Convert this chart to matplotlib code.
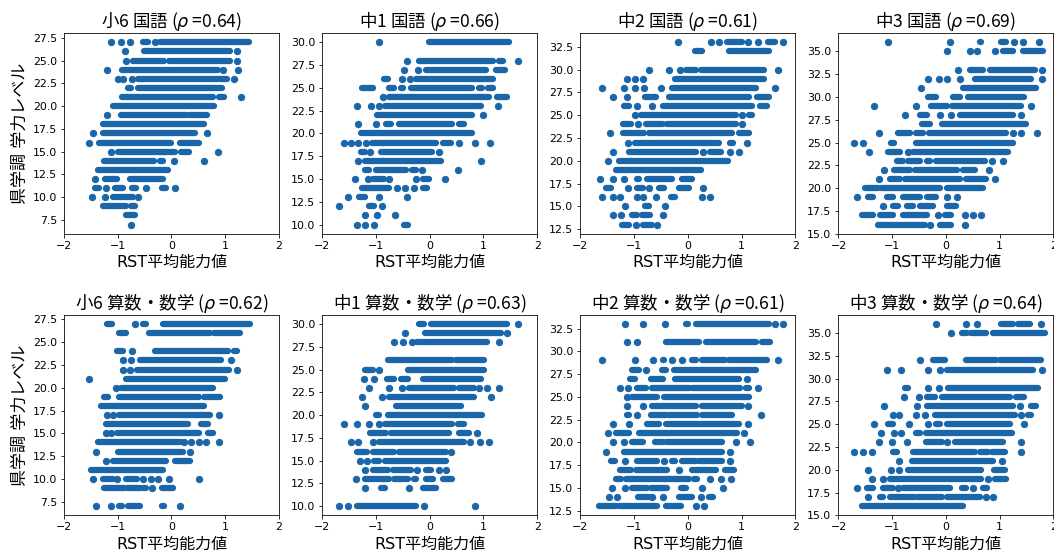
import matplotlib.pyplot as plt

plt.rcParams['font.family'] = ['DejaVu Sans', 'Noto Sans CJK JP']
JP = ['Noto Sans CJK JP', 'DejaVu Sans']
BLUE = '#1a66a9'

# each row: level -> list of single points (float) or dense runs of points (x0, x1)
kokugo_s6 = {
    27: [-1.13, -0.93, -0.78, (-0.53, -0.44), -0.31, (-0.22, 1.44)],
    26: [-0.87, (-0.51, 1.08), 1.21],
    25: [-0.84, (-0.72, -0.13), (-0.04, 1.08), 1.21],
    24: [-1.20, (-0.92, 0.86), 0.95, 1.23],
    23: [-1.00, -0.90, -0.73, (-0.63, 1.03), 1.16],
    22: [(-0.81, -0.75), (-0.63, 0.94)],
    21: [(-0.92, 0.77), (0.88, 0.97), 1.29],
    20: [(-1.08, 0.80)],
    19: [-1.20, (-0.93, 0.27), (0.32, 0.67)],
    18: [(-1.28, 0.61)],
    17: [-1.46, (-1.28, 0.43), 0.66],
    16: [-1.54, (-1.34, 0.00), (0.15, 0.51)],
    15: [-1.12, (-1.00, 0.07), (0.18, 0.33), 0.86],
    14: [(-1.26, -0.32), (-0.22, -0.16), 0.04, 0.61],
    13: [(-1.36, -0.07)],
    12: [-1.42, (-1.23, -1.01), (-0.77, -0.16)],
    11: [(-1.43, -1.34), -1.21, (-1.06, -0.90), (-0.73, -0.66), -0.48, (-0.17, -0.10), 0.06],
    10: [-1.47, -1.24, (-1.09, -0.72), -0.63],
    9: [(-1.28, -0.85), (-0.75, -0.67)],
    8: [(-0.85, -0.67)],
    7: [-0.75],
}

kokugo_j1 = {
    30: [-0.95, (-0.01, 1.47)],
    28: [-0.42, (-0.19, 1.17), (1.29, 1.36), 1.64],
    27: [-0.47, -0.21, (-0.07, 1.04), (1.24, 1.41)],
    26: [(-0.84, -0.78), -0.52, -0.37, (-0.26, 1.17)],
    25: [(-1.26, -1.06), (-0.75, -0.66), (-0.53, -0.50), (-0.35, 0.79), (0.91, 0.98), (1.09, 1.17)],
    24: [-0.86, (-0.75, 1.10), (1.26, 1.44)],
    23: [-1.35, -1.09, -0.94, (-0.83, 0.95), 1.27],
    22: [(-0.98, 0.79), 1.00],
    21: [-1.33, -1.00, (-0.81, -0.72), (-0.57, 0.42), (0.54, 0.64)],
    20: [(-1.28, 0.79)],
    19: [-1.60, -1.46, -1.33, -1.18, (-1.07, 0.11), (0.24, 0.39), 0.55, 0.84, 1.12],
    18: [(-1.28, -1.21), -1.11, (-0.91, 0.05), 0.18],
    17: [-1.33, (-1.21, 0.21), 0.95],
    16: [(-1.21, -1.12), (-1.00, -0.44), (-0.32, -0.26), -0.15, 0.52],
    15: [-1.38, -1.15, (-1.06, -0.84), -0.75, -0.26, (-0.13, -0.01), 0.29],
    14: [(-1.25, -0.75), -0.60, -0.45, -0.29, (-0.13, -0.04)],
    13: [-1.51, (-1.31, -1.21), -0.95, -0.42],
    12: [-1.68, (-1.12, -1.03), -0.89],
    11: [-1.20, -0.98, -0.65],
    10: [-1.35, -1.20, -1.03, (-0.47, -0.41)],
}

kokugo_j2 = {
    33: [-0.19, 0.44, 0.58, (0.73, 1.01), 1.12, 1.30, (1.49, 1.63), 1.77],
    32: [(0.13, 0.26), (0.76, 1.51)],
    30: [-0.73, -0.35, -0.15, (-0.04, 0.15), (0.24, 1.41), 1.67],
    29: [-1.14, -0.99, -0.84, (-0.24, 1.42)],
    28: [-1.60, -1.18, -0.99, -0.81, -0.50, (-0.29, 1.26), 1.62],
    27: [-1.39, -1.14, (-0.79, -0.60), (-0.35, 1.13), (1.29, 1.51)],
    26: [(-1.18, -1.09), -0.95, -0.66, (-0.47, 1.19), (1.35, 1.47)],
    25: [-0.99, (-0.88, 0.89), 1.01, (1.13, 1.20)],
    24: [(-1.20, -1.06), -0.92, (-0.78, -0.47), (-0.38, 0.89), 1.00],
    23: [-1.44, (-1.20, -0.81), (-0.72, 0.82), (0.95, 1.13)],
    22: [-1.11, (-0.98, 0.58), (0.78, 0.84), 1.11],
    21: [-1.40, (-1.09, 0.15), 0.28, (0.42, 0.61), 0.79, 0.95],
    20: [-1.49, (-1.28, 0.75)],
    19: [(-1.34, 0.24)],
    18: [-1.63, -1.39, -1.18, (-0.95, -0.91), (-0.75, -0.29), (-0.10, 0.08)],
    17: [(-1.52, -1.43), -1.12, (-0.95, -0.84), -0.72, (-0.53, -0.44), (-0.16, 0.02), 0.28],
    16: [-1.59, -1.40, -1.26, -0.95, -0.83, -0.60, (-0.32, -0.23), 0.27, 0.41],
    15: [-1.17, (-0.79, -0.72), -0.42],
    14: [-1.39, -1.25, (-1.03, -0.94), (-0.86, -0.71), -0.47],
    13: [(-1.23, -1.09), -0.97, (-0.84, -0.66), -0.57],
}

kokugo_j3 = {
    36: [-1.07, 0.07, (0.63, 0.66), (1.03, 1.12), 1.26, 1.43, 1.73],
    35: [0.02, 0.44, 0.58, 0.91, (1.06, 1.25), (1.43, 1.80)],
    33: [0.23, (0.44, 0.69), (0.82, 1.65), 1.79],
    32: [-0.34, -0.13, 0.02, 0.26, (0.54, 1.59), 1.79],
    31: [-0.47, (0.32, 1.68)],
    30: [(-0.33, -0.19), (0.13, 0.26), (0.41, 1.46)],
    29: [-1.33, -0.56, (-0.27, 0.01), (0.12, 1.40), 1.59],
    28: [-0.76, (-0.49, -0.36), -0.11, 0.10, (0.26, 1.25), 1.40],
    27: [(-0.44, -0.30), (-0.08, 1.49)],
    26: [-1.24, (-0.90, -0.67), (-0.55, -0.42), (-0.31, 1.12), 1.24, 1.40, 1.70],
    25: [-1.72, -1.55, (-1.02, -0.96), (-0.56, 1.25)],
    24: [-1.44, (-1.07, -0.86), -0.70, (-0.61, 1.15)],
    23: [(-0.91, -0.80), (-0.70, -0.49), (-0.36, -0.30), (-0.19, 0.72), 0.85, 1.06],
    22: [-1.15, (-0.96, -0.67), (-0.58, 0.20), (0.32, 0.54), 0.80],
    21: [-1.24, (-1.04, -0.86), (-0.76, 0.26), (0.37, 0.75), 0.91],
    20: [(-1.51, -1.26), (-1.20, -0.11), (0.01, 0.69)],
    19: [-1.66, (-1.45, -1.35), (-1.10, -0.98), (-0.80, -0.49), (-0.36, -0.18), 0.02, 0.21],
    18: [-1.17, (-0.99, -0.89), (-0.73, -0.61), (-0.49, -0.24), (0.01, 0.19)],
    17: [(-1.57, -1.35), (-1.23, -0.98), (-0.80, -0.36), -0.15, (-0.02, 0.10), 0.35, 0.50, 0.66],
    16: [(-1.26, -0.39), -0.30, (-0.11, 0.10), 0.35],
}

sansu_s6 = {
    27: [(-1.20, -1.11), -0.67, (-0.53, -0.47), (-0.16, 1.47)],
    26: [(-0.98, -0.84), (-0.42, 0.71), (0.80, 1.27)],
    24: [(-1.01, -0.90), -0.73, (-0.31, 1.05), (1.17, 1.22)],
    23: [-0.90, -0.75, (-0.59, 0.93), 1.10],
    22: [-0.90, -0.77, (-0.65, 1.07), 1.21],
    21: [-1.53, (-0.84, 0.99)],
    20: [-1.04, (-0.93, 0.77)],
    19: [(-1.26, -1.18), (-0.98, 0.52), (0.60, 0.90)],
    18: [(-1.32, 0.60)],
    17: [-1.20, -1.09, (-0.98, 0.72), 0.88],
    16: [(-1.22, 0.31), (0.55, 0.68)],
    15: [-1.22, -1.12, (-1.01, 0.52), (0.68, 0.77)],
    14: [(-1.37, 0.18), 0.24, 0.37, 0.51, 0.65, 0.88],
    13: [-1.41, (-0.99, 0.21), 0.34],
    12: [-1.22, (-1.09, -0.10), (0.06, 0.34)],
    11: [(-1.49, -0.16)],
    10: [-1.46, (-1.27, -1.09), -1.01, (-0.85, -0.65), -0.53, -0.38, -0.25, -0.05, 0.52],
    9: [(-1.26, -0.89), (-0.83, -0.59), (-0.53, -0.47), -0.36, (-0.17, 0.02)],
    7: [-1.41, -1.12, (-0.98, -0.92), (-0.81, -0.59), (-0.18, -0.13), 0.15],
}

sansu_j1 = {
    30: [(-0.20, -0.10), (0.02, 1.44), 1.64],
    29: [-0.46, (-0.09, 1.32), 1.43],
    28: [-0.66, -0.50, -0.32, (-0.24, 1.07), 1.29],
    26: [(-0.78, 0.42), (0.49, 1.01)],
    25: [(-1.21, -1.06), -0.94, (-0.41, 1.01)],
    24: [-1.23, -1.03, (-0.80, -0.66), (-0.53, -0.41), (-0.13, 0.95)],
    23: [-1.13, -0.75, -0.52, (-0.39, 0.45), (0.55, 0.83), 0.91, 1.07, 1.29],
    22: [-1.26, -0.89, (-0.75, 0.83), 1.15],
    21: [-1.20, (-0.63, 0.58)],
    20: [(-1.00, -0.95), (-0.78, 0.98)],
    19: [-1.60, -1.36, -1.12, -0.95, (-0.83, 0.42), (0.52, 0.64)],
    18: [(-1.11, -0.81), (-0.72, 0.36), (0.55, 0.73), 0.88],
    17: [-1.46, -1.33, -1.06, (-0.95, 0.64), 0.76, 0.94, 1.10],
    16: [(-1.36, -1.17), (-1.06, -0.66), (-0.57, 0.30), 0.40],
    15: [-1.29, -1.17, (-1.03, -0.94), (-0.83, 0.30)],
    14: [-1.21, (-1.06, -0.78), (-0.69, -0.35), -0.23, (-0.07, 0.02), 0.18, 0.30],
    13: [-1.37, (-1.21, -0.75), (-0.66, -0.41), (-0.29, -0.26), (-0.07, 0.06), (0.24, 0.42)],
    12: [-1.21, (-0.91, -0.83), -0.38, (-0.12, 0.11)],
    10: [-1.68, -1.51, (-1.36, -0.26), -0.11, 0.84],
}

sansu_j2 = {
    33: [-1.17, -0.84, -0.42, (-0.04, 0.00), (0.15, 1.51), 1.63, 1.77],
    31: [-1.14, -0.95, (-0.41, 0.21), (0.33, 1.26), (1.38, 1.52)],
    29: [-1.60, -0.99, -0.64, (-0.47, -0.44), -0.29, -0.11, (0.08, 0.15), (0.27, 0.70), (0.76, 1.47), 1.67],
    28: [(-1.03, -0.91), -0.78, (-0.48, -0.41), (-0.26, 1.26)],
    27: [(-1.08, -0.99), (-0.69, -0.47), (-0.23, 0.95), 1.10],
    26: [-1.26, -1.12, (-0.95, -0.78), (-0.66, 0.02), (0.08, 0.98), (1.09, 1.13), 1.30],
    25: [-1.13, (-1.03, -0.57), (-0.44, 1.13)],
    24: [-1.13, -0.84, (-0.66, 0.15), (0.26, 1.01), 1.12],
    23: [(-1.14, -1.09), -0.94, (-0.69, -0.41), (-0.35, 0.18), (0.27, 0.83), 1.37],
    22: [-1.39, -1.10, (-0.75, -0.53), (-0.41, 0.95), 1.12],
    21: [-1.49, (-1.34, -1.09), (-0.91, 0.92), 1.05],
    20: [-1.39, -1.18, (-1.03, -0.84), (-0.61, -0.47), (-0.41, 0.64), 0.89, 1.15],
    19: [-1.52, (-1.18, 0.64), 0.78],
    18: [(-1.43, -1.35), -1.17, (-0.94, -0.57), -0.44, (-0.29, -0.24), (-0.10, 0.15), (0.20, 0.64), 0.78],
    17: [(-1.26, -1.06), (-0.97, -0.38), -0.16, (0.08, 0.52), (0.70, 0.86)],
    16: [(-1.34, -1.25), (-1.15, 0.02), (0.11, 0.18), 0.42, 0.61, 0.81],
    15: [-1.41, -1.17, (-1.03, -0.75), (-0.69, -0.38), (-0.13, -0.04), 0.27, 0.66],
    14: [-1.46, -1.32, (-0.92, -0.73), -0.66, -0.47, (-0.16, 0.08), 0.24, (0.39, 0.47)],
    13: [(-1.66, -1.34), (-1.28, -0.57), (-0.41, -0.13), 0.16, 0.30],
}

sansu_j3 = {
    36: [-0.19, 0.37, 0.57, (1.03, 1.25), (1.34, 1.56), 1.76],
    35: [0.10, (0.29, 0.39), (0.47, 0.75), (0.88, 1.84)],
    32: [-0.49, (-0.24, -0.02), (0.38, 0.94), (1.00, 1.77)],
    31: [-1.09, -0.84, -0.33, -0.11, (0.02, 1.62), 1.79],
    29: [(-0.76, -0.70), -0.33, -0.13, (0.04, 1.71)],
    28: [-0.78, -0.50, (-0.36, -0.21), (-0.08, 1.19), (1.30, 1.46)],
    27: [-1.16, -0.53, (-0.36, 1.25), 1.37, (1.58, 1.68)],
    26: [-0.99, -0.87, -0.56, -0.39, (-0.21, 1.28), 1.40, (1.53, 1.59)],
    25: [-1.34, (-1.07, -0.99), -0.69, -0.33, (-0.18, -0.11), (0.01, 1.19), 1.45],
    24: [-1.20, -0.96, -0.83, (-0.55, -0.49), (-0.37, 1.22)],
    23: [-1.24, -1.00, -0.73, (-0.37, -0.08), 0.01, (0.16, 1.06), 1.40],
    22: [-1.72, -1.55, -1.38, (-0.98, -0.92), (-0.61, 0.54), (0.63, 0.78), (0.86, 1.09), 1.40],
    21: [-0.87, (-0.64, 0.88), 1.04],
    20: [-1.45, -1.02, -0.87, (-0.70, 0.66), (0.89, 1.09)],
    19: [-1.38, -1.18, (-1.04, 0.66), 0.78, (0.91, 1.12)],
    18: [-1.66, (-1.46, -1.35), (-1.17, -0.98), -0.89, (-0.80, 0.07), (0.29, 0.38), 0.50, (0.69, 0.76)],
    17: [-1.45, (-1.23, -1.18), (-1.04, -0.58), (-0.52, -0.08), (0.01, 0.63), 0.75, 0.88],
    16: [(-1.57, 0.32)],
}

titles = ['小6 国語 ($\\rho$ =0.64)', '中1 国語 ($\\rho$ =0.66)',
          '中2 国語 ($\\rho$ =0.61)', '中3 国語 ($\\rho$ =0.69)',
          '小6 算数・数学 ($\\rho$ =0.62)', '中1 算数・数学 ($\\rho$ =0.63)',
          '中2 算数・数学 ($\\rho$ =0.61)', '中3 算数・数学 ($\\rho$ =0.64)']
datasets = [kokugo_s6, kokugo_j1, kokugo_j2, kokugo_j3,
            sansu_s6, sansu_j1, sansu_j2, sansu_j3]

fig, axes = plt.subplots(2, 4, figsize=(1054 / 72, 553 / 72), dpi=72)
fig.subplots_adjust(left=0.0607, right=0.9995, bottom=0.068, top=0.940,
                    wspace=0.2007, hspace=0.405)

for i, ax in enumerate(axes.flat):
    rows = datasets[i]
    xs, ys = [], []
    for lvl, items in rows.items():
        for it in items:
            if isinstance(it, tuple):
                ax.plot(it, [lvl, lvl], color=BLUE, lw=6.3, solid_capstyle='round')
            else:
                xs.append(it)
                ys.append(lvl)
    ax.scatter(xs, ys, s=40, color=BLUE)
    ax.set_xlim(-2, 2)
    ax.set_xticks([-2, -1, 0, 1, 2])
    ax.tick_params(labelsize=11)
    ax.set_title(titles[i], fontsize=17.5, family=JP)
    ax.set_xlabel('RST平均能力値', fontsize=16)
    if i % 4 == 0:
        ax.set_ylabel('県学調 学力レベル', fontsize=17)

fig.savefig('out.png', dpi=72)
